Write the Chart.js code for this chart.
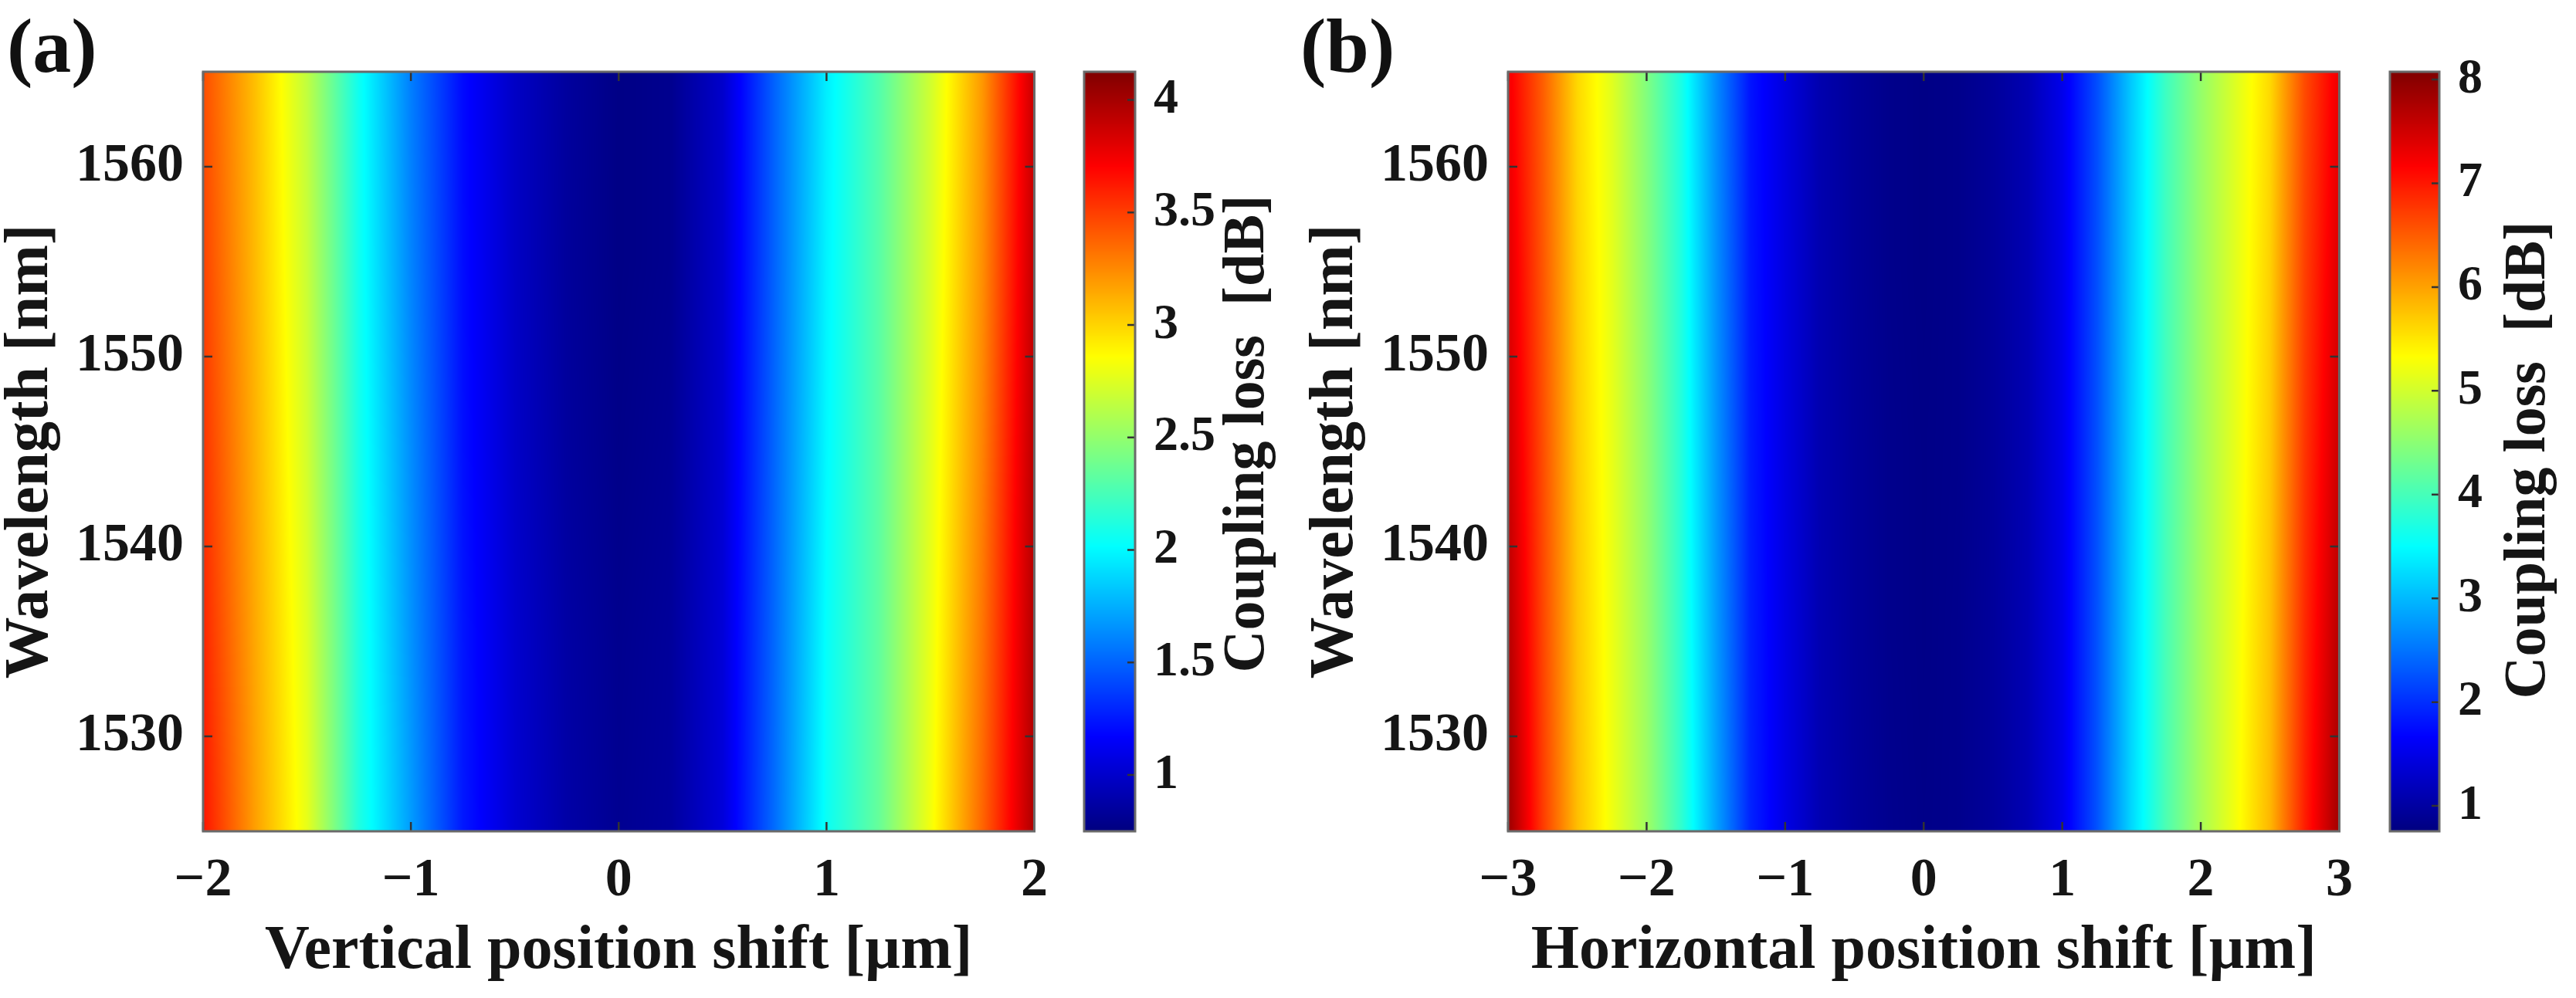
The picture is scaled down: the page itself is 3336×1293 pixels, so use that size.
<!DOCTYPE html>
<html>
<head>
    <title>Coupling loss maps</title>
    <script src="https://cdn.jsdelivr.net/npm/chart.js"></script>
    <style>
        body {
            margin: 0;
            background: #fff;
        }
        #fig {
            position: relative;
            width: 3336px;
            height: 1293px;
            overflow: hidden;
        }
        #fig canvas {
            position: absolute;
            top: 0;
        }
        .letter {
            position: absolute;
            font-family: 'Liberation Serif', 'Times New Roman', serif;
            font-weight: bold;
            font-size: 100px;
            line-height: 100px;
            color: #111;
        }
    </style>
</head>
<body>
    <div id="fig">
        <canvas id="mainA" width="1380" height="1293" style="left:0px"></canvas>
        <canvas id="barA" width="310" height="1293" style="left:1380px"></canvas>
        <canvas id="mainB" width="1380" height="1293" style="left:1690px"></canvas>
        <canvas id="barB" width="266" height="1293" style="left:3070px"></canvas>
        <div class="letter" style="left:9px;top:10px">(a)</div>
        <div class="letter" style="left:1684px;top:10px">(b)</div>
    </div>

    <script>
        // grid (loss in dB)
        const WAVELENGTH = [1525, 1535, 1545, 1555, 1565];

        const SHIFT_A = [-2, -1.75, -1.5, -1.25, -1, -0.75, -0.5, -0.25, 0, 0.25, 0.5, 0.75, 1, 1.25, 1.5, 1.75, 2];
        const LOSS_A_1525 = [3.64, 3.18, 2.78, 2.12, 1.69, 1.25, 1.02, 0.88, 0.81, 0.85, 1.05, 1.53, 2.05, 2.35, 2.82, 3.37, 3.98];
        const LOSS_A_1535 = [3.59, 3.15, 2.75, 2.11, 1.66, 1.24, 1.01, 0.87, 0.80, 0.84, 1.04, 1.52, 2.03, 2.33, 2.79, 3.32, 3.96];
        const LOSS_A_1545 = [3.54, 3.12, 2.71, 2.09, 1.64, 1.22, 0.99, 0.85, 0.78, 0.82, 1.02, 1.51, 2.00, 2.31, 2.76, 3.27, 3.94];
        const LOSS_A_1555 = [3.49, 3.09, 2.68, 2.07, 1.61, 1.21, 0.98, 0.84, 0.77, 0.80, 1.01, 1.50, 1.98, 2.30, 2.73, 3.23, 3.91];
        const LOSS_A_1565 = [3.45, 3.07, 2.65, 2.06, 1.59, 1.20, 0.98, 0.85, 0.77, 0.80, 1.00, 1.50, 1.96, 2.28, 2.70, 3.20, 3.89];

        const SHIFT_B = [-3, -2.75, -2.5, -2.25, -2, -1.75, -1.5, -1.25, -1, -0.75, -0.5, -0.25, 0,
                         0.25, 0.5, 0.75, 1, 1.25, 1.5, 1.75, 2, 2.25, 2.5, 2.75, 3];
        const LOSS_B_1525 = [7.90, 6.75, 5.80, 5.22, 4.65, 3.85, 2.85, 1.92, 1.48, 1.12, 0.96, 0.86, 0.82,
                             0.85, 0.95, 1.13, 1.50, 2.25, 3.22, 4.05, 4.70, 5.25, 5.85, 6.95, 7.85];
        const LOSS_B_1535 = [7.72, 6.68, 5.75, 5.20, 4.60, 3.80, 2.80, 1.89, 1.47, 1.11, 0.95, 0.85, 0.81,
                             0.85, 0.95, 1.13, 1.50, 2.25, 3.20, 4.02, 4.67, 5.21, 5.79, 6.87, 7.70];
        const LOSS_B_1545 = [7.55, 6.62, 5.70, 5.17, 4.54, 3.76, 2.76, 1.86, 1.45, 1.10, 0.95, 0.85, 0.81,
                             0.84, 0.94, 1.12, 1.51, 2.24, 3.17, 3.99, 4.63, 5.16, 5.72, 6.78, 7.55];
        const LOSS_B_1555 = [7.40, 6.55, 5.66, 5.14, 4.48, 3.72, 2.72, 1.83, 1.44, 1.10, 0.94, 0.84, 0.80,
                             0.84, 0.94, 1.12, 1.51, 2.23, 3.14, 3.97, 4.60, 5.12, 5.66, 6.70, 7.42];
        const LOSS_B_1565 = [7.25, 6.49, 5.61, 5.11, 4.42, 3.68, 2.68, 1.80, 1.43, 1.09, 0.94, 0.84, 0.80,
                             0.84, 0.94, 1.12, 1.52, 2.22, 3.12, 3.94, 4.56, 5.08, 5.60, 6.62, 7.30];

        const X_TICKS_A = [-2, -1, 0, 1, 2];
        const X_TICKS_B = [-3, -2, -1, 0, 1, 2, 3];
        const Y_TICKS = [1530, 1540, 1550, 1560];
        const CBAR_TICKS_A = [1, 1.5, 2, 2.5, 3, 3.5, 4];
        const CBAR_TICKS_B = [1, 2, 3, 4, 5, 6, 7, 8];
        const CBAR_RANGE_A = [0.75, 4.125];
        const CBAR_RANGE_B = [0.755, 8.075];

        const LOSS_A = [LOSS_A_1525, LOSS_A_1535, LOSS_A_1545, LOSS_A_1555, LOSS_A_1565];
        const LOSS_B = [LOSS_B_1525, LOSS_B_1535, LOSS_B_1545, LOSS_B_1555, LOSS_B_1565];

        const SERIF = "'Liberation Serif', 'Times New Roman', serif";
        const INK = '#151515';

        // matlab style jet colormap
        function jet(t) {
            t = Math.min(1, Math.max(0, t));
            const f = c => Math.round(255 * Math.min(1, Math.max(0, 1.5 - Math.abs(4 * t - c))));
            return [f(3), f(2), f(1)];
        }

        function locate(arr, v) {
            let k = 0;
            while (k < arr.length - 2 && v > arr[k + 1]) k++;
            const f = Math.min(1, Math.max(0, (v - arr[k]) / (arr[k + 1] - arr[k])));
            return [k, f];
        }

        const minus = v => (v < 0 ? '\u2212' + Math.abs(v) : String(v));

        // surface drawn pixel by pixel through the chart scales, plus box and inner ticks
        function heatmapPlugin(xs, rows, range, xTicks) {
            return {
                id: 'heatmap',
                beforeDatasetsDraw(chart) {
                    const {ctx, chartArea: a} = chart;
                    const xS = chart.scales.x, yS = chart.scales.y;
                    const w = Math.round(a.right - a.left), h = Math.round(a.bottom - a.top);
                    const off = document.createElement('canvas');
                    off.width = w;
                    off.height = h;
                    const octx = off.getContext('2d');
                    const img = octx.createImageData(w, h);
                    const cols = [];
                    for (let i = 0; i < w; i++) cols.push(locate(xs, xS.getValueForPixel(a.left + i + 0.5)));
                    const [lo, hi] = range;
                    for (let j = 0; j < h; j++) {
                        const [r, fr] = locate(WAVELENGTH, yS.getValueForPixel(a.top + j + 0.5));
                        const r0 = rows[r], r1 = rows[r + 1];
                        for (let i = 0; i < w; i++) {
                            const [c, fc] = cols[i];
                            const v0 = r0[c] + (r0[c + 1] - r0[c]) * fc;
                            const v1 = r1[c] + (r1[c + 1] - r1[c]) * fc;
                            const v = v0 + (v1 - v0) * fr;
                            const rgb = jet((v - lo) / (hi - lo));
                            const p = (j * w + i) * 4;
                            img.data[p] = rgb[0];
                            img.data[p + 1] = rgb[1];
                            img.data[p + 2] = rgb[2];
                            img.data[p + 3] = 255;
                        }
                    }
                    octx.putImageData(img, 0, 0);
                    ctx.drawImage(off, a.left, a.top, a.right - a.left, a.bottom - a.top);
                },
                afterDatasetsDraw(chart) {
                    const {ctx, chartArea: a} = chart;
                    const xS = chart.scales.x, yS = chart.scales.y;
                    ctx.save();
                    ctx.strokeStyle = '#333';
                    ctx.lineWidth = 2.5;
                    ctx.beginPath();
                    xTicks.forEach(v => {
                        const px = xS.getPixelForValue(v);
                        ctx.moveTo(px, a.bottom); ctx.lineTo(px, a.bottom - 12);
                        ctx.moveTo(px, a.top); ctx.lineTo(px, a.top + 12);
                    });
                    Y_TICKS.forEach(v => {
                        const py = yS.getPixelForValue(v);
                        ctx.moveTo(a.left, py); ctx.lineTo(a.left + 12, py);
                        ctx.moveTo(a.right, py); ctx.lineTo(a.right - 12, py);
                    });
                    ctx.stroke();
                    ctx.strokeStyle = '#6a6a6a';
                    ctx.lineWidth = 3;
                    ctx.strokeRect(a.left, a.top, a.right - a.left, a.bottom - a.top);
                    ctx.restore();
                }
            };
        }

        function makeMain(id, xs, rows, range, xTicks, xTitle) {
            const pts = [];
            rows.forEach((row, r) => row.forEach((v, c) => pts.push({x: xs[c], y: WAVELENGTH[r], v: v})));
            return new Chart(document.getElementById(id), {
                type: 'scatter',
                data: {datasets: [{data: pts, pointRadius: 0, pointHoverRadius: 0}]},
                options: {
                    responsive: false,
                    animation: false,
                    events: [],
                    layout: {padding: {top: 93, right: id === 'mainA' ? 26 : 25, bottom: 0, left: 0}},
                    plugins: {legend: {display: false}, tooltip: {enabled: false}},
                    scales: {
                        x: {
                            type: 'linear',
                            min: xs[0],
                            max: xs[xs.length - 1],
                            afterBuildTicks: s => { s.ticks = xTicks.map(v => ({value: v})); },
                            afterFit: s => { s.height = 216; },
                            grid: {display: false, drawTicks: false},
                            border: {display: false},
                            ticks: {
                                padding: 23,
                                color: INK,
                                maxRotation: 0,
                                font: {family: SERIF, size: 70, weight: 'bold', lineHeight: 1.2},
                                callback: v => minus(v)
                            },
                            title: {
                                display: true,
                                text: xTitle,
                                color: INK,
                                font: {family: SERIF, size: 80, weight: 'bold', lineHeight: 1.2},
                                padding: {top: 0, bottom: 12}
                            }
                        },
                        y: {
                            type: 'linear',
                            min: 1525,
                            max: 1565,
                            afterBuildTicks: s => { s.ticks = Y_TICKS.map(v => ({value: v})); },
                            afterFit: s => { s.width = 263; },
                            grid: {display: false, drawTicks: false},
                            border: {display: false},
                            ticks: {
                                padding: 25,
                                color: INK,
                                font: {family: SERIF, size: 70, weight: 'bold', lineHeight: 1.2},
                                callback: v => String(v)
                            },
                            title: {
                                display: true,
                                text: 'Wavelength [nm]',
                                color: INK,
                                font: {family: SERIF, size: 80, weight: 'bold', lineHeight: 1},
                                padding: {top: 0, bottom: 0}
                            }
                        }
                    }
                },
                plugins: [heatmapPlugin(xs, rows, range, xTicks)]
            });
        }

        // colour bar: gradient filled row by row from its own value scale
        function colorbarPlugin(titleX, titleY) {
            return {
                id: 'colorbar',
                beforeDatasetsDraw(chart) {
                    const {ctx, chartArea: a} = chart;
                    const yS = chart.scales.y;
                    const lo = yS.min, hi = yS.max;
                    for (let j = Math.floor(a.top); j < Math.ceil(a.bottom); j++) {
                        const rgb = jet((yS.getValueForPixel(j + 0.5) - lo) / (hi - lo));
                        ctx.fillStyle = 'rgb(' + rgb.join(',') + ')';
                        ctx.fillRect(a.left, j, a.right - a.left, 1);
                    }
                },
                afterDatasetsDraw(chart) {
                    const {ctx, chartArea: a} = chart;
                    const yS = chart.scales.y;
                    ctx.save();
                    ctx.strokeStyle = '#333';
                    ctx.lineWidth = 2.5;
                    ctx.beginPath();
                    yS.ticks.forEach(t => {
                        const py = yS.getPixelForValue(t.value);
                        ctx.moveTo(a.right, py); ctx.lineTo(a.right - 10, py);
                    });
                    ctx.stroke();
                    ctx.strokeStyle = '#6a6a6a';
                    ctx.lineWidth = 3;
                    ctx.strokeRect(a.left, a.top, a.right - a.left, a.bottom - a.top);
                    ctx.translate(titleX, titleY);
                    ctx.rotate(-Math.PI / 2);
                    ctx.fillStyle = INK;
                    ctx.font = 'bold 76px ' + SERIF;
                    ctx.textAlign = 'center';
                    ctx.textBaseline = 'middle';
                    ctx.fillText('Coupling loss  [dB]', 0, 0);
                    ctx.restore();
                }
            };
        }

        function makeColorbar(id, range, ticks, leftPad, axisWidth, titleX, titleY) {
            return new Chart(document.getElementById(id), {
                type: 'scatter',
                data: {datasets: [{data: ticks.map(v => ({x: 0.5, y: v})), pointRadius: 0, pointHoverRadius: 0}]},
                options: {
                    responsive: false,
                    animation: false,
                    events: [],
                    layout: {padding: {top: 93, right: 0, bottom: 216, left: leftPad}},
                    plugins: {legend: {display: false}, tooltip: {enabled: false}},
                    scales: {
                        x: {type: 'linear', min: 0, max: 1, display: false},
                        y: {
                            type: 'linear',
                            position: 'right',
                            min: range[0],
                            max: range[1],
                            afterBuildTicks: s => { s.ticks = ticks.map(v => ({value: v})); },
                            afterFit: s => { s.width = axisWidth; },
                            grid: {display: false, drawTicks: false},
                            border: {display: false},
                            ticks: {
                                padding: 24,
                                color: INK,
                                font: {family: SERIF, size: 64, weight: 'bold', lineHeight: 1.2},
                                callback: v => String(v)
                            }
                        }
                    }
                },
                plugins: [colorbarPlugin(titleX, titleY)]
            });
        }

        makeMain('mainA', SHIFT_A, LOSS_A, CBAR_RANGE_A, X_TICKS_A, 'Vertical position shift [\u00b5m]');
        makeMain('mainB', SHIFT_B, LOSS_B, CBAR_RANGE_B, X_TICKS_B, 'Horizontal position shift [\u00b5m]');
        makeColorbar('barA', CBAR_RANGE_A, CBAR_TICKS_A, 24, 220, 236, 562);
        makeColorbar('barB', CBAR_RANGE_B, CBAR_TICKS_B, 25, 177, 205, 596);
    </script>
</body>
</html>
